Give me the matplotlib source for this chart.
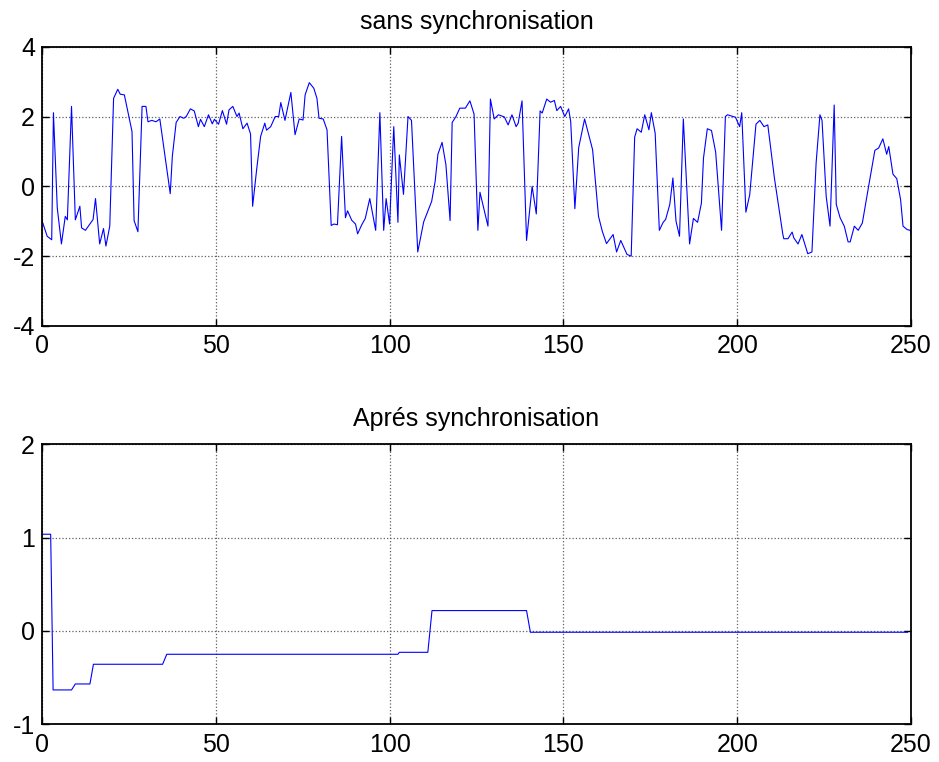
import numpy as np
import matplotlib
matplotlib.use('Agg')
import matplotlib.pyplot as plt

plt.rcParams['font.family'] = ['Liberation Sans', 'DejaVu Sans']
plt.rcParams['axes.unicode_minus'] = False

#*********************** signal before synchronisation ***************************#
# vertices (sample position, amplitude)
x_sans = [0, 1.5, 2.8, 3.3, 4.4, 5.6, 6.7, 7.3, 8.5, 9.6, 10.9, 11.4, 12.5, 14.7, 15.4,
          16.6, 17.7, 18.4, 19.5, 20.6, 21.8, 22.5, 23.7, 25.9, 26.5, 27.6, 28.8, 29.9,
          30.5, 31.6, 32.8, 33.9, 36.9, 37.5, 38.6, 39.7, 40.8, 41.5, 42.7, 43.8, 45.0,
          45.6, 46.7, 47.9, 49.0, 49.6, 50.8, 51.9, 53.1, 53.8, 54.9, 56.1, 56.7, 57.8,
          59.0, 60.0, 60.6, 61.8, 62.9, 64.1, 64.6, 65.8, 67.1, 68.1, 68.7, 69.9, 71.6,
          72.8, 74.0, 75.1, 75.7, 76.9, 78.2, 79.1, 79.7, 80.9, 82.0, 83.2, 84.0, 85.0,
          86.2, 87.3, 87.9, 89.1, 90.2, 90.8, 92.0, 93.0, 94.3, 96.0, 97.2, 98.3, 99.0,
          100.0, 101.2, 102.4, 102.8, 104.0, 105.3, 106.3, 108.1, 109.8, 112.1, 113.1,
          113.9, 115.1, 116.2, 117.4, 118.0, 119.1, 120.2, 121.8, 123.1, 124.3, 125.4,
          126.0, 128.3, 129.0, 130.1, 131.3, 133.0, 134.1, 135.2, 136.4, 137.0, 138.1,
          139.4, 141.0, 142.2, 143.3, 143.9, 145.2, 146.3, 147.4, 148.1, 149.2, 150.4,
          151.5, 152.1, 153.3, 154.4, 156.1, 158.4, 160.1, 161.2, 162.4, 164.3, 165.3,
          166.5, 168.3, 169.5, 170.5, 171.2, 172.4, 173.4, 174.6, 175.3, 176.4, 177.6,
          178.7, 179.4, 180.6, 181.5, 182.4, 183.4, 184.5, 186.3, 187.4, 188.6, 189.7,
          190.3, 191.4, 192.6, 193.8, 195.5, 196.6, 197.2, 199.5, 200.7, 201.3, 202.5,
          203.6, 205.4, 206.5, 207.7, 208.8, 210.7, 213.1, 213.4, 214.6, 215.8, 216.3,
          217.5, 218.6, 220.3, 221.5, 222.7, 223.8, 224.4, 225.6, 226.7, 227.9, 228.5,
          229.6, 230.8, 231.9, 232.5, 233.7, 234.8, 236.0, 237.8, 239.6, 240.7, 241.9,
          243.0, 243.6, 244.8, 245.9, 247.0, 247.7, 248.9, 249.8, 250.0]
y_sans = [-0.98, -1.43, -1.53, 2.11, -0.62, -1.65, -0.86, -0.96, 2.29, -0.96, -0.57, -1.19,
          -1.26, -0.95, -0.35, -1.65, -1.21, -1.71, -1.14, 2.52, 2.78, 2.64, 2.62, 1.57,
          -0.98, -1.30, 2.29, 2.29, 1.85, 1.89, 1.85, 1.93, -0.21, 0.86, 1.83, 2.0, 1.95,
          2.0, 2.22, 2.16, 1.71, 1.92, 1.71, 2.05, 1.79, 1.92, 1.78, 2.17, 1.78, 2.19, 2.29,
          2.0, 2.10, 1.65, 1.81, 1.50, -0.57, 0.52, 1.43, 1.81, 1.61, 1.71, 2.0, 2.0, 2.40,
          1.89, 2.69, 1.48, 1.93, 1.90, 2.62, 2.97, 2.81, 2.52, 1.95, 1.93, 1.62, -1.12,
          -1.08, -1.10, 1.43, -0.90, -0.70, -0.97, -1.08, -1.36, -1.10, -0.92, -0.35, -1.26,
          2.11, -1.26, -0.35, -1.08, 1.71, -1.03, 0.90, -0.23, 2.0, 1.89, -1.88, -1.02,
          -0.43, 0.14, 0.92, 1.26, 0.62, -0.98, 1.83, 2.0, 2.24, 2.24, 2.45, 2.07, -1.26,
          -0.17, -1.14, 2.50, 1.93, 2.05, 1.99, 1.76, 2.05, 1.71, 1.81, 2.45, -1.55, 0.0,
          -0.79, 2.16, 2.10, 2.50, 2.41, 2.46, 2.17, 2.29, 2.0, 2.22, 1.86, -0.64, 1.11,
          1.93, 1.05, -0.86, -1.29, -1.64, -1.38, -1.88, -1.55, -1.95, -2.0, 1.41, 1.65,
          1.55, 2.05, 1.62, 2.11, 1.52, -1.26, -1.03, -0.95, -0.52, 0.24, -1.0, -1.43, 1.93,
          -1.65, -0.92, -1.03, -0.48, 0.81, 1.65, 1.60, 0.98, -1.26, 2.0, 2.05, 1.98, 1.71,
          2.11, -0.74, -0.24, 1.78, 1.89, 1.71, 1.76, 0.24, -1.36, -1.50, -1.50, -1.31,
          -1.48, -1.65, -1.38, -1.93, -1.88, 0.67, 2.05, 1.89, -0.29, -1.14, 2.33, -0.52,
          -0.90, -1.14, -1.59, -1.59, -1.14, -1.26, -1.05, 0.0, 1.03, 1.10, 1.36, 0.92,
          1.14, 0.35, 0.22, -0.38, -1.14, -1.24, -1.26, -1.38]

#*********************** signal after synchronisation ***************************#
x_apres = [0, 2.5, 3.2, 8.5, 9.6, 13.8, 14.8, 34.7, 35.9, 102.4, 102.8, 111.0, 112.2,
           139.4, 140.5, 249.0]
y_apres = [1.036, 1.036, -0.632, -0.632, -0.568, -0.568, -0.357, -0.357, -0.25, -0.25,
           -0.229, -0.229, 0.218, 0.218, -0.014, -0.014]

xticks = [0, 50, 100, 150, 200, 250]
yticks_sans = [-4, -2, 0, 2, 4]
yticks_apres = [-1, 0, 1, 2]

fig = plt.figure(figsize=(9.39, 7.62), dpi=100)

def style_axes(ax, yticks):
	# matlab look: inward ticks on all sides, dotted grid
	ax.set_xlim(0, 250)
	ax.set_ylim(yticks[0], yticks[-1])
	ax.set_xticks(xticks)
	ax.set_yticks(yticks)
	ax.tick_params(direction='in', top=True, right=True, labelsize=18, length=5,
		width=1)
	ax.tick_params(axis='x', pad=6)
	ax.tick_params(axis='y', pad=5)
	ax.grid(True, color='#606060', linestyle=':', linewidth=0.9)
	for s in ax.spines.values():
		s.set_linewidth(1.3)

ax1 = fig.add_axes([0.0447, 0.5722, 0.9255, 0.3665])
ax1.plot(x_sans, y_sans, color='blue', linewidth=0.8)
style_axes(ax1, yticks_sans)
ax1.set_title('sans synchronisation', fontsize=18, pad=13)

ax2 = fig.add_axes([0.0447, 0.0495, 0.9255, 0.3675])
ax2.plot(x_apres, y_apres, color='blue', linewidth=0.8)
style_axes(ax2, yticks_apres)
ax2.set_title('Aprés synchronisation', fontsize=18, pad=13)

plt.savefig('out.png', dpi=100)
